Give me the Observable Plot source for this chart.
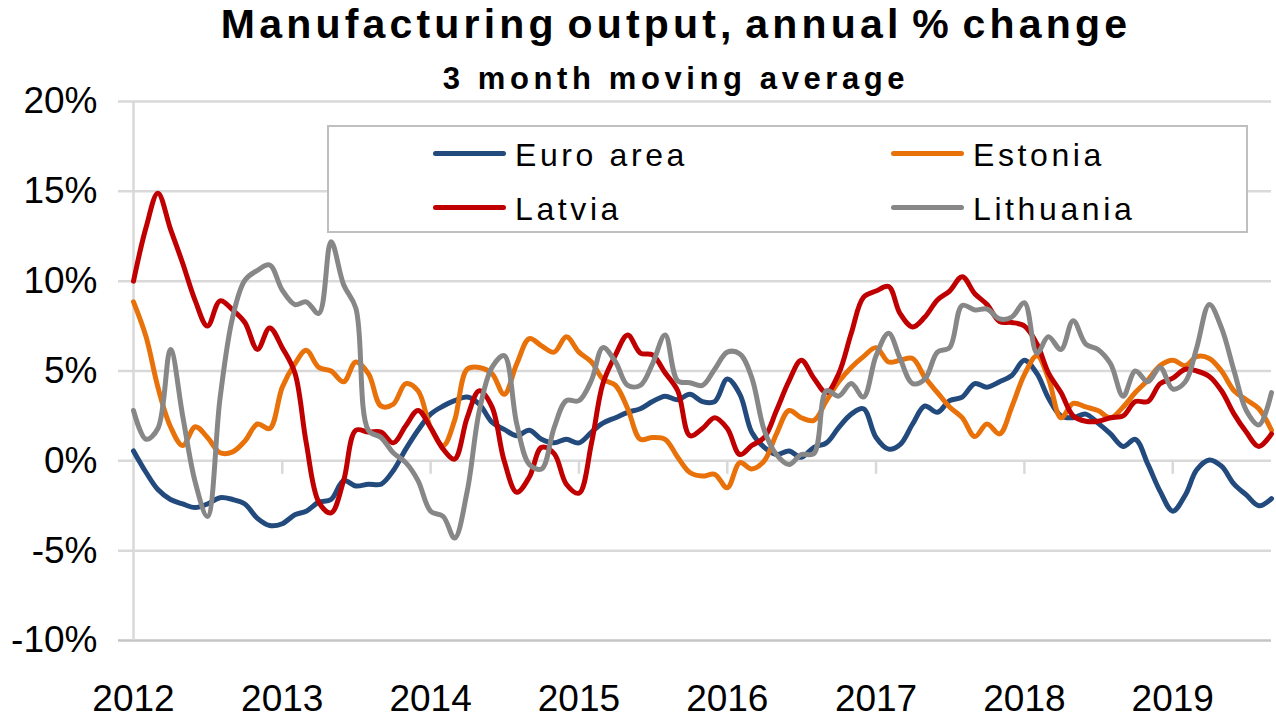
<!DOCTYPE html>
<html>
<head>
<meta charset="utf-8">
<script src="https://cdn.jsdelivr.net/npm/d3@7"></script>
<script src="https://cdn.jsdelivr.net/npm/@observablehq/plot@0.6"></script>
<style>
  html, body { margin: 0; padding: 0; background: #fff; }
  #wrap { position: relative; width: 1276px; height: 718px; overflow: hidden; font-family: "Liberation Sans", Arial, sans-serif; color: #000; }
  #chart { position: absolute; left: 0; top: 0; }
  .ttl { position: absolute; white-space: nowrap; text-align: center; font-weight: bold; }
  #legendBox { position: absolute; box-sizing: border-box; background: #fff; border: 2.5px solid #bfbfbf; }
  .sw { position: absolute; height: 5px; border-radius: 2.5px; }
  .lt { position: absolute; white-space: nowrap; font-size: 32px; line-height: 32px; letter-spacing: 3.6px; }
</style>
</head>
<body>
<div id="wrap">
  <div id="chart"></div>
  <div id="title" class="ttl"></div>
  <div id="subtitle" class="ttl"></div>
  <div id="legendBox"></div>
</div>
<script>
// ---- data ----
const titleText = "Manufacturing output, annual % change";
const subtitleText = "3 month moving average";
const years = [2012, 2013, 2014, 2015, 2016, 2017, 2018, 2019];
const yTicks = [-10, -5, 0, 5, 10, 15, 20];
const seriesNames = ["Euro area", "Estonia", "Latvia", "Lithuania"];
const seriesColors = ["#234a7d", "#e8710a", "#c00000", "#878787"];
const startYear = 2012;   // monthly, Jan 2012 .. Sep 2019

const euroArea = [
  0.55, -0.65, -1.6, -2.15, -2.4, -2.6, -2.4, -2.05, -2.15, -2.4, -3.2, -3.6,
  -3.5, -3.0, -2.8, -2.3, -2.15, -1.1, -1.4, -1.3, -1.3, -0.55, 0.65, 1.7,
  2.6, 3.05, 3.35, 3.55, 3.15, 2.15, 1.75, 1.4, 1.7, 1.2, 1.0, 1.2,
  1.0, 1.6, 2.1, 2.4, 2.7, 2.9, 3.3, 3.6, 3.4, 3.7, 3.3, 3.3,
  4.55, 3.7, 1.6, 0.75, 0.35, 0.55, 0.2, 0.75, 1.0, 1.85, 2.6, 2.9,
  1.3, 0.65, 0.9, 2.05, 3.05, 2.7, 3.35, 3.55, 4.3, 4.1, 4.4, 4.75,
  5.6, 4.85, 3.5, 2.5, 2.4, 2.6, 2.1, 1.5, 0.8, 1.2, -0.2, -1.7,
  -2.8, -1.9, -0.5, 0.05, -0.3, -1.3, -1.9, -2.5, -2.1
];
const estonia = [
  8.85, 6.9, 4.1, 1.9, 0.85, 1.9, 1.3, 0.45, 0.5, 1.1, 2.05, 1.8,
  4.1, 5.4, 6.15, 5.2, 5.0, 4.4, 5.5, 4.85, 3.05, 3.15, 4.3, 3.9,
  1.85, 0.85, 2.25, 5.1, 5.2, 4.85, 3.7, 5.4, 6.8, 6.4, 6.05, 6.9,
  6.05, 5.5, 4.55, 4.2, 2.9, 1.2, 1.3, 1.2, 0.2, -0.65, -0.85, -0.75,
  -1.5, -0.1, -0.45, 0.0, 1.5, 2.8, 2.4, 2.25, 3.35, 4.4, 5.2, 5.8,
  6.3, 5.5, 5.6, 5.7, 4.65, 3.8, 3.0, 2.4, 1.35, 2.05, 1.5, 3.0,
  4.8, 5.85, 4.6, 2.4, 3.2, 3.0, 2.8, 2.4, 3.0, 3.8, 4.5, 5.3,
  5.6, 5.3, 5.8, 5.7, 5.0, 3.9, 3.4, 2.9, 1.7
];
const latvia = [
  10.0, 13.0, 14.9, 12.9, 11.0, 8.9, 7.5, 8.9, 8.4, 7.7, 6.2, 7.4,
  6.3, 4.9, 1.0, -2.3, -2.9, -1.1, 1.7, 1.6, 1.6, 1.0, 1.95, 2.8,
  1.85, 0.65, 0.1, 2.4, 3.9, 3.0, 0.0, -1.75, -0.9, 0.75, 0.4, -1.3,
  -1.8, 1.0, 4.3, 5.9, 7.0, 6.0, 5.9, 4.9, 3.9, 1.4, 1.8, 2.4,
  1.8, 0.35, 0.85, 1.3, 2.8, 4.45, 5.6, 4.6, 3.8, 4.85, 7.1, 9.1,
  9.45, 9.7, 8.2, 7.45, 8.0, 8.95, 9.45, 10.25, 9.3, 8.7, 7.75, 7.7,
  7.5, 6.5, 4.9, 3.8, 2.5, 2.2, 2.2, 2.4, 2.5, 3.3, 3.3, 4.3,
  4.6, 5.1, 5.0, 4.7, 3.9, 2.6, 1.6, 0.8, 1.5
];
const lithuania = [
  2.8, 1.2, 1.8, 6.2, 2.5, -1.2, -3.1, 3.5, 8.0, 10.05, 10.6, 10.9,
  9.5, 8.7, 8.85, 8.2, 12.2, 9.8, 8.5, 1.7, 1.3, 0.45, -0.1, -1.1,
  -2.8, -3.1, -4.3, -1.7, 2.8, 5.2, 5.85, 2.05, -0.2, -0.45, 1.85, 3.35,
  3.35, 4.5, 6.3, 5.5, 4.2, 4.2, 5.4, 7.0, 4.45, 4.35, 4.2, 5.1,
  6.05, 5.95, 4.65, 1.7, 0.35, -0.2, 0.35, 0.4, 3.9, 3.6, 4.3, 3.55,
  5.85, 7.1, 5.7, 4.3, 4.55, 6.05, 6.3, 8.65, 8.4, 8.45, 7.9, 8.0,
  8.8, 6.0, 6.9, 6.2, 7.8, 6.5, 6.2, 5.4, 3.6, 5.0, 4.4, 5.2,
  4.0, 4.4, 6.3, 8.7, 7.4, 5.0, 2.8, 2.0, 3.8
];
const seriesValues = [euroArea, estonia, latvia, lithuania];

// ---- build table ----
const monthDate = i => new Date(Date.UTC(startYear, i, 1));
const yearDates = years.map(y => new Date(Date.UTC(y, 0, 1)));
const nMonths = euroArea.length;
const xDomain = [monthDate(0), monthDate(nMonths - 1)];
const rowsFor = (vals, name) => vals.map((v, i) => ({date: monthDate(i), value: v, series: name}));

const grid = "#d9d9d9";
const lineMarks = seriesNames.map((name, k) =>
  Plot.lineY(rowsFor(seriesValues[k], name), {
    x: "date", y: "value", stroke: seriesColors[k], strokeWidth: 5,
    curve: "catmull-rom", strokeLinejoin: "round", strokeLinecap: "round"
  })
);

const chart = Plot.plot({
  width: 1276,
  height: 718,
  marginLeft: 133,
  marginRight: 5,
  marginTop: 101,
  marginBottom: 78,
  style: {fontFamily: "'Liberation Sans', Arial, sans-serif", background: "transparent", color: "#000"},
  x: {type: "utc", domain: xDomain, label: null},
  y: {domain: [-10, 20], label: null},
  marks: [
    Plot.ruleY(yTicks, {stroke: d => d === -10 ? "#c4c4c4" : grid, strokeWidth: 2.5, insetLeft: -15}),
    Plot.ruleX([xDomain[0]], {stroke: grid, strokeWidth: 2.5}),
    Plot.ruleX(yearDates.slice(1), {y1: 0, y2: -0.75, stroke: grid, strokeWidth: 2.5}),
    ...lineMarks,
    Plot.axisY({ticks: yTicks, tickSize: 0, tickPadding: 36, fontSize: 37, tickFormat: d => d + "%", label: null}),
    Plot.axisX({ticks: yearDates, tickSize: 0, tickPadding: 44, fontSize: 37, tickFormat: d => String(d.getUTCFullYear()), label: null})
  ]
});
document.getElementById("chart").appendChild(chart);

// ---- titles ----
const t = document.getElementById("title");
t.textContent = titleText;
Object.assign(t.style, {left: "76px", width: "1200px", top: "1px", fontSize: "41px", lineHeight: "47px", letterSpacing: "4.2px", wordSpacing: "-6px"});
const st = document.getElementById("subtitle");
st.textContent = subtitleText;
Object.assign(st.style, {left: "76px", width: "1200px", top: "62px", fontSize: "31px", lineHeight: "34px", letterSpacing: "4.6px"});

// ---- legend (inside the plot, two columns) ----
const lb = document.getElementById("legendBox");
Object.assign(lb.style, {left: "327px", top: "125px", width: "921px", height: "108px"});
const wrap = document.getElementById("wrap");
const colSwatchX = [433, 891];
const rowY = [153, 207];
seriesNames.forEach((name, k) => {
  const col = k % 2, row = Math.floor(k / 2);
  const sw = document.createElement("div");
  sw.className = "sw";
  Object.assign(sw.style, {left: colSwatchX[col] + "px", top: (rowY[row] - 2.5) + "px", width: "73px", background: seriesColors[k]});
  wrap.appendChild(sw);
  const tx = document.createElement("div");
  tx.className = "lt";
  tx.textContent = name;
  Object.assign(tx.style, {left: (colSwatchX[col] + 82) + "px", top: (rowY[row] - 14) + "px"});
  wrap.appendChild(tx);
});
</script>
</body>
</html>
